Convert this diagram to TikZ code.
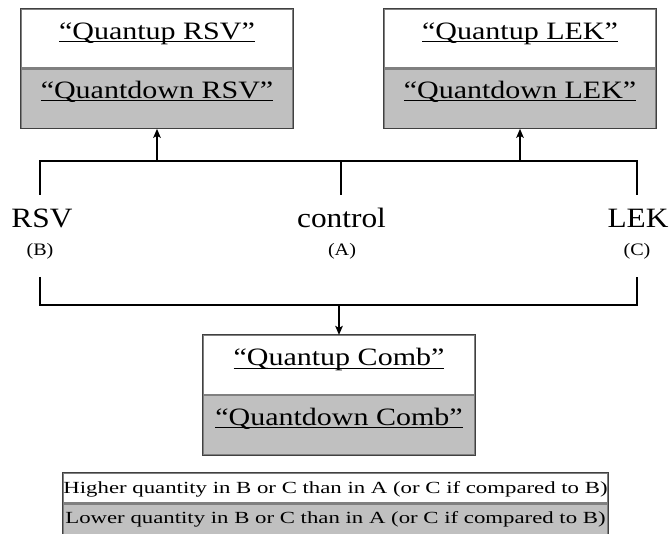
\documentclass[tikz,border=0pt]{standalone}
\usepackage{fontspec}
\setmainfont{Liberation Serif}
\newfontfamily\titlefont{Liberation Serif}[FakeStretch=1.2,Ligatures=TeX]
\newfontfamily\bigfont{Liberation Serif}[FakeStretch=1.12,Ligatures=TeX]
\newfontfamily\letterfont{Liberation Serif}[FakeStretch=1.15,Ligatures=TeX]
\newfontfamily\legendfont{Liberation Serif}[FakeStretch=1.34,Ligatures=TeX]
\usetikzlibrary{arrows.meta}
\definecolor{cellgray}{RGB}{192,192,192}
\definecolor{divgray}{RGB}{128,128,128}
\definecolor{edgegray}{RGB}{64,64,64}
\newsavebox\myulbox
\newcommand\myul[1]{\sbox\myulbox{#1}\rlap{\rule[-2.8pt]{\wd\myulbox}{1.1pt}}\usebox\myulbox}
\begin{document}
\begin{tikzpicture}[x=1pt,y=-1pt,
  cell/.style={rectangle, inner sep=0pt, minimum width=272pt, draw=divgray, line width=1.2pt,
    font=\titlefont\fontsize{25}{27}\selectfont},
  upcell/.style={cell, fill=white, anchor=base, text height=30.5pt, text depth=28.5pt},
  downcell/.style={cell, fill=cellgray, anchor=north, text height=29.5pt, text depth=29.5pt},
  outer/.style={draw=edgegray, line width=1.2pt},
  conn/.style={line width=2pt, black},
  arr/.style={conn, -{Stealth[length=9pt,width=7.5pt,inset=2pt]}},
  grp/.style={inner sep=0pt, anchor=base, font=\bigfont\fontsize{28}{30}\selectfont},
  letter/.style={inner sep=0pt, anchor=base, font=\letterfont\fontsize{17.5}{19}\selectfont},
  legrow/.style={rectangle, inner sep=0pt, minimum width=545pt, anchor=base, draw=divgray, line width=1.2pt,
    font=\legendfont\fontsize{17}{19}\selectfont}
]
\useasboundingbox (0,0) rectangle (669,534);

% top boxes
\node[upcell] (ru) at (157,39.5) {\myul{“Quantup RSV”}};
\node[downcell] (rd) at (ru.south) {\myul{“Quantdown RSV”}};
\draw[outer] (ru.north west) rectangle (rd.south east);

\node[upcell] (lu) at (520,39.5) {\myul{“Quantup LEK”}};
\node[downcell] (ld) at (lu.south) {\myul{“Quantdown LEK”}};
\draw[outer] (lu.north west) rectangle (ld.south east);

% group labels
\node[grp] (rsv) at (42,228) {RSV};
\node[grp] (ctl) at (341.5,228) {control};
\node[grp] (lek) at (638,228) {LEK};
\node[letter] (B) at (40,256) {(B)};
\node[letter] (A) at (342,256) {(A)};
\node[letter] (C) at (637,256) {(C)};

% upper bracket
\coordinate (tl) at (40,161);
\coordinate (tr) at (637,161);
\coordinate (tB) at (40,195);
\coordinate (tA) at (341,195);
\coordinate (tC) at (637,195);
\draw[conn] (tB) -- (tl) -- (tr) -- (tC);
\draw[conn] (tA) -- (tA |- tl);
\draw[arr] (rd.south |- tl) -- (rd.south);
\draw[arr] (ld.south |- tl) -- (ld.south);

% comb box
\node[upcell] (cu) at (339,366) {\myul{“Quantup Comb”}};
\node[downcell] (cd) at (cu.south) {\myul{“Quantdown Comb”}};
\draw[outer] (cu.north west) rectangle (cd.south east);

% lower bracket
\coordinate (bB) at (40,277);
\coordinate (bC) at (637,277);
\coordinate (bl) at (40,305);
\coordinate (br) at (637,305);
\draw[conn] (bB) -- (bl) -- (br) -- (bC);
\draw[arr] (cu.north |- bl) -- (cu.north);

% legend
\node[legrow, fill=white, text height=20pt, text depth=10pt] (l1) at (335.5,493) {Higher quantity in B or C than in A (or C if compared to B)};
\node[legrow, fill=cellgray, anchor=north, text height=19.5pt, text depth=10.5pt] (l2) at (l1.south) {Lower quantity in B or C than in A (or C if compared to B)};
\draw[outer] (l1.north west) rectangle (l2.south east);
\end{tikzpicture}
\end{document}
